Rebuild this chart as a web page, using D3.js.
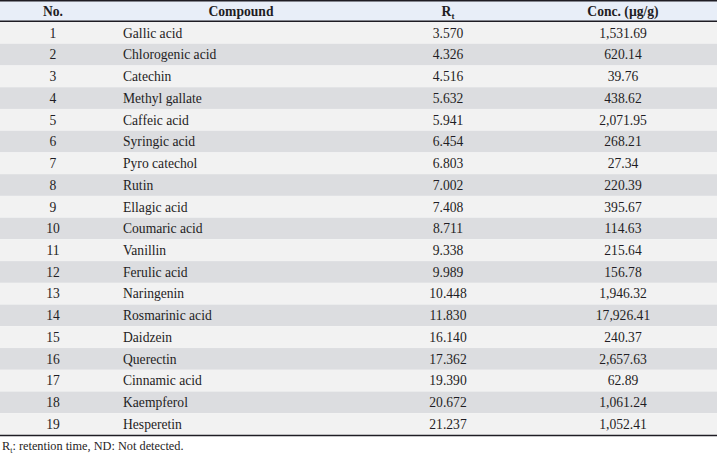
<!DOCTYPE html>
<html>
<head>
<meta charset="utf-8">
<script src="https://cdn.jsdelivr.net/npm/d3@7"></script>
<style>
  html, body { margin: 0; padding: 0; background: #ffffff; }
  svg { display: block; }
  text { font-family: "Liberation Serif", "Times New Roman", serif; fill: #1f1d24; }
</style>
</head>
<body>
<div id="chart"></div>
<script>
// Table data
const compounds = [
    'Gallic acid', 'Chlorogenic acid', 'Catechin', 'Methyl gallate', 'Caffeic acid',
    'Syringic acid', 'Pyro catechol', 'Rutin', 'Ellagic acid', 'Coumaric acid',
    'Vanillin', 'Ferulic acid', 'Naringenin', 'Rosmarinic acid', 'Daidzein',
    'Querectin', 'Cinnamic acid', 'Kaempferol', 'Hesperetin'
];
const retentionTimes = [
    3.570, 4.326, 4.516, 5.632, 5.941, 6.454, 6.803, 7.002, 7.408, 8.711,
    9.338, 9.989, 10.448, 11.830, 16.140, 17.362, 19.390, 20.672, 21.237
];
const concentrations = [
    1531.69, 620.14, 39.76, 438.62, 2071.95, 268.21, 27.34, 220.39, 395.67, 114.63,
    215.64, 156.78, 1946.32, 17926.41, 240.37, 2657.63, 62.89, 1061.24, 1052.41
];
const footnote = ': retention time, ND: Not detected.';

const width = 717;
const height = 458;
const fontSize = 13.6;

const rows = compounds.map((name, i) => ({
    no: i + 1,
    name: name,
    rt: retentionTimes[i],
    conc: concentrations[i]
}));

const svg = d3.select('#chart')
    .append('svg')
    .attr('width', width)
    .attr('height', height);

// Row scale
const y = d3.scaleBand()
    .domain(rows.map(d => d.no))
    .range([22, 435]);

const fmtRt = d3.format('.3f');
const fmtConc = d3.format(',.2f');

// column x positions
const col = { no: 53, name: 123, rt: 448, conc: 623 };

// Header
svg.append('rect')
    .attr('x', 0).attr('y', 0)
    .attr('width', width).attr('height', 22)
    .attr('fill', '#e8eef8');

const header = svg.append('g')
    .attr('font-weight', 'bold')
    .attr('font-size', fontSize);

header.append('text')
    .attr('x', col.no).attr('y', 16)
    .attr('text-anchor', 'middle')
    .text('No.');
header.append('text')
    .attr('x', 241).attr('y', 16)
    .attr('text-anchor', 'middle')
    .text('Compound');
const rtHead = header.append('text')
    .attr('x', col.rt).attr('y', 16)
    .attr('text-anchor', 'middle');
rtHead.append('tspan').text('R');
rtHead.append('tspan').attr('font-size', 9).attr('dy', 3).text('t');
header.append('text')
    .attr('x', col.conc).attr('y', 16)
    .attr('text-anchor', 'middle')
    .text('Conc. (µg/g)');

// Body rows
const rowG = svg.append('g')
    .selectAll('g')
    .data(rows)
    .join('g')
    .attr('transform', d => `translate(0,${y(d.no)})`);

rowG.append('rect')
    .attr('width', width)
    .attr('height', y.bandwidth())
    .attr('fill', d => d.no % 2 === 1 ? '#f2f2f2' : '#dcdde0');

const textY = y.bandwidth() / 2 + 4.8;

rowG.append('text')
    .attr('x', col.no).attr('y', textY)
    .attr('text-anchor', 'middle')
    .attr('font-size', fontSize)
    .text(d => d.no);
rowG.append('text')
    .attr('x', col.name).attr('y', textY)
    .attr('font-size', fontSize)
    .text(d => d.name);
rowG.append('text')
    .attr('x', col.rt).attr('y', textY)
    .attr('text-anchor', 'middle')
    .attr('font-size', fontSize)
    .text(d => fmtRt(d.rt));
rowG.append('text')
    .attr('x', col.conc).attr('y', textY)
    .attr('text-anchor', 'middle')
    .attr('font-size', fontSize)
    .text(d => fmtConc(d.conc));

// Rules
const rule = (yPos, w) => svg.append('line')
    .attr('x1', 0).attr('x2', width)
    .attr('y1', yPos).attr('y2', yPos)
    .attr('stroke', '#1f1d24')
    .attr('stroke-width', w);
rule(0.75, 1.5);
rule(21.25, 1.5);
rule(435.5, 1.5);

// Footnote
const foot = svg.append('text')
    .attr('x', 2).attr('y', 450)
    .attr('font-size', 12.3);
foot.append('tspan').text('R');
foot.append('tspan').attr('font-size', 8).attr('dy', 2.5).text('t');
foot.append('tspan').attr('dy', -2.5).text(footnote);
</script>
</body>
</html>
